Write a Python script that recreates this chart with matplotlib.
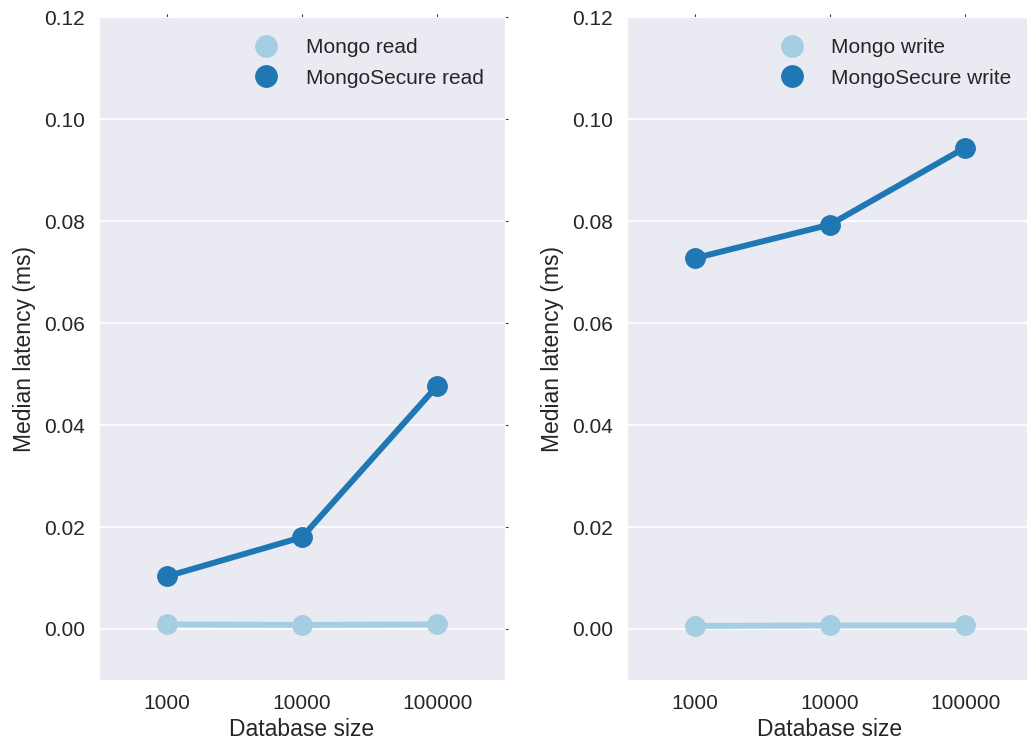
import matplotlib
matplotlib.use("Agg")
import matplotlib.pyplot as plt
import seaborn as sns

sns.set_style("darkgrid")
plt.rcParams['font.family'] = ['Liberation Sans', 'DejaVu Sans']

# data
sizes = ["1000", "10000", "100000"]
mongo_read = [0.0009, 0.0008, 0.0009]
secure_read = [0.0103, 0.0180, 0.0477]
mongo_write = [0.0006, 0.0007, 0.0007]
secure_write = [0.0727, 0.0793, 0.0944]

light = "#a6cee3"
dark = "#1f78b4"

fig = plt.figure(figsize=(10.27, 7.47), dpi=100)
ax1 = fig.add_axes([0.0964, 0.0897, 0.3953, 0.8875])
ax2 = fig.add_axes([0.6105, 0.0897, 0.3953, 0.8875])

panels = [
    (ax1, mongo_read, secure_read, "Mongo read", "MongoSecure read"),
    (ax2, mongo_write, secure_write, "Mongo write", "MongoSecure write"),
]

x = list(range(len(sizes)))
for ax, base, secure, lab1, lab2 in panels:
    ax.plot(x, base, color=light, lw=4.3, marker="o", ms=14, label=lab1)
    ax.plot(x, secure, color=dark, lw=4.3, marker="o", ms=14, label=lab2)
    ax.set_xlim(-0.5, 2.5)
    ax.set_ylim(-0.01, 0.12)
    ax.set_xticks(x)
    ax.set_xticklabels(sizes)
    ax.set_yticks([0.0, 0.02, 0.04, 0.06, 0.08, 0.10, 0.12])
    ax.set_yticklabels(["0.00", "0.02", "0.04", "0.06", "0.08", "0.10", "0.12"])
    ax.xaxis.grid(False)
    ax.yaxis.grid(True, color="white", lw=1.3)
    ax.tick_params(axis="both", which="both", direction="out", length=2, width=0.8,
                   color="#333333", labelsize=15, top=True, right=True, pad=8,
                   labelcolor="#262626")
    ax.set_xlabel("Database size", fontsize=16.5, color="#262626", labelpad=4)
    ax.set_ylabel("Median latency (ms)", fontsize=16.5, color="#262626", labelpad=6)
    leg = ax.legend(loc="upper right", frameon=False, fontsize=15, numpoints=1,
                    handlelength=2.0, handletextpad=0.9, labelspacing=0.55,
                    borderaxespad=0.62, markerscale=1.1)
    for h in leg.legend_handles:
        h.set_linestyle("")
    for t in leg.get_texts():
        t.set_color("#262626")

fig.savefig("out.png", dpi=100)
